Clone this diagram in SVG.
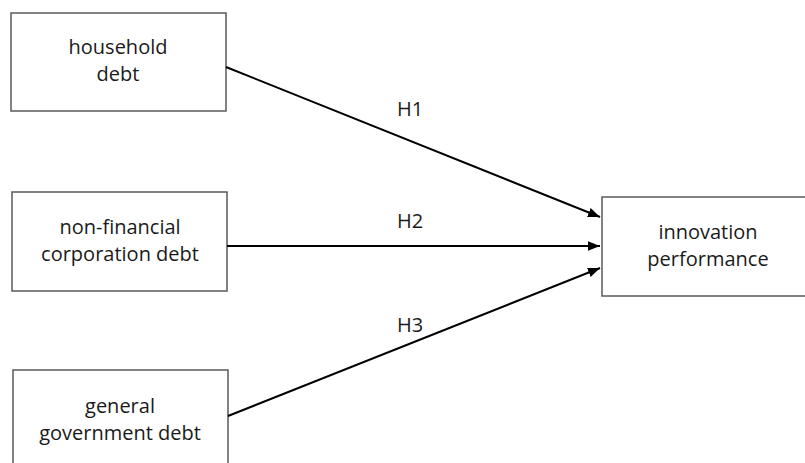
<svg xmlns="http://www.w3.org/2000/svg" width="805" height="463" viewBox="0 0 805 463">
<style>
.box{fill:#fff;stroke:#595959;stroke-width:1.5}
.t{font-family:"Open Sans","Noto Sans",sans-serif;font-size:20px;fill:#1a1a1a;text-anchor:middle}
.c{stroke:#000;stroke-width:2;fill:none;marker-end:url(#ah)}
</style>
<defs>
<marker id="ah" viewBox="0 0 10 10" refX="10" refY="5" markerWidth="6" markerHeight="6" markerUnits="strokeWidth" orient="auto">
<path d="M0,1 L10,5 L0,9 z" fill="#000"/>
</marker>
</defs>
<rect width="805" height="463" fill="#fff"/>
<g id="household">
<rect class="box" x="11" y="13" width="215" height="98"/>
<text class="t" x="118" y="54">household</text>
<text class="t" x="118" y="81">debt</text>
</g>
<g id="nonfinancial">
<rect class="box" x="12" y="192" width="215" height="99"/>
<text class="t" x="120" y="234">non-financial</text>
<text class="t" x="120" y="261">corporation debt</text>
</g>
<g id="government">
<rect class="box" x="13" y="370" width="215" height="100"/>
<text class="t" x="120" y="413">general</text>
<text class="t" x="120" y="440">government debt</text>
</g>
<g id="innovation">
<rect class="box" x="602" y="197" width="210" height="99"/>
<text class="t" x="708" y="239">innovation</text>
<text class="t" x="708" y="266">performance</text>
</g>
<g id="connectors">
<line class="c" x1="226" y1="67" x2="600" y2="217"/>
<line class="c" x1="227" y1="246" x2="600" y2="246"/>
<line class="c" x1="228" y1="416" x2="600" y2="268"/>
<text class="t" x="410" y="116">H1</text>
<text class="t" x="410" y="228">H2</text>
<text class="t" x="410" y="332">H3</text>
</g>
</svg>
